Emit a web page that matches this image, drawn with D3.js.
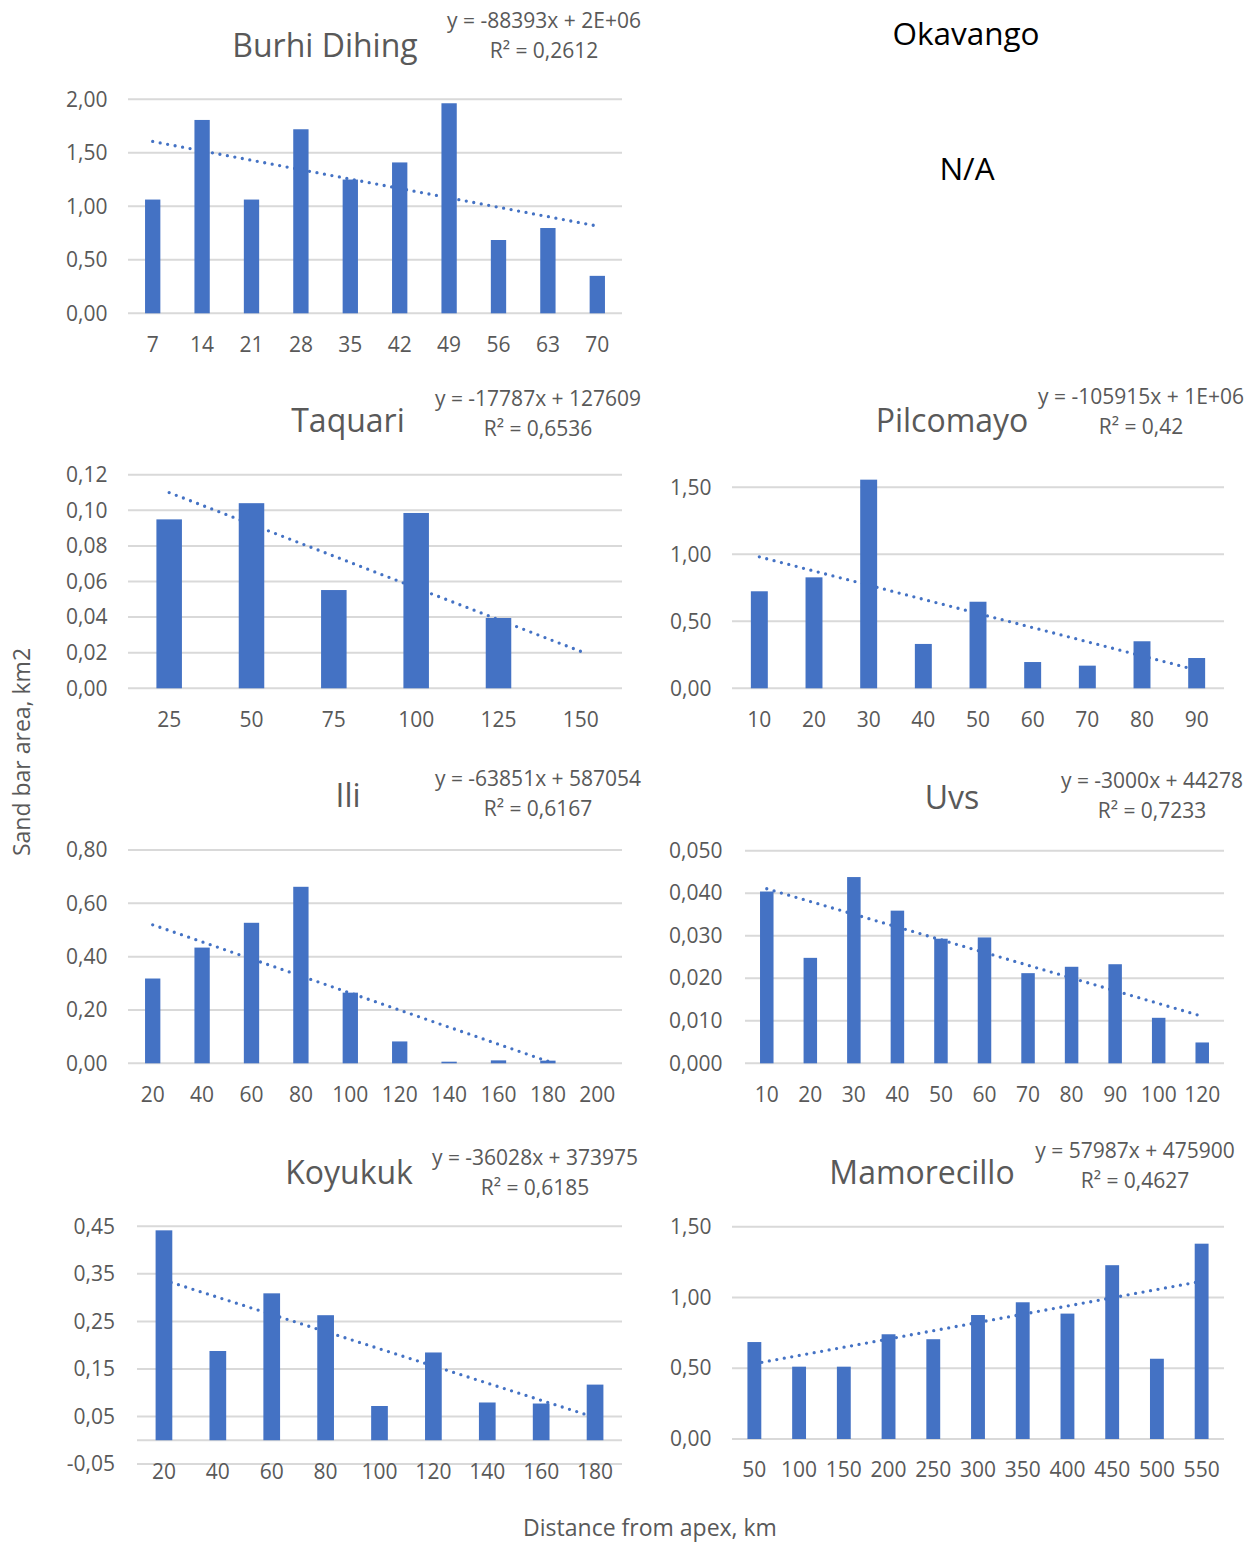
<!DOCTYPE html>
<html>
<head>
<meta charset="utf-8">
<script src="https://cdn.jsdelivr.net/npm/d3@7"></script>
<style>
  body { margin: 0; background: #fff; }
  text { font-family: "Open Sans", "DejaVu Sans", sans-serif; }
</style>
</head>
<body>
<svg id="chart" width="1260" height="1542"></svg>
<script>
// ---- Data: sand bar area (km2) by distance from apex (km) ----
const burhiDistance = ["7", "14", "21", "28", "35", "42", "49", "56", "63", "70"];
const burhiArea = [1.063, 1.807, 1.063, 1.72, 1.25, 1.41, 1.963, 0.685, 0.797, 0.35];
const burhiTicks = [0, 0.5, 1, 1.5, 2];
const burhiEquation = ["y = -88393x + 2E+06", "R² = 0,2612"];

const taquariDistance = ["25", "50", "75", "100", "125", "150"];
const taquariArea = [0.0949, 0.104, 0.0552, 0.0985, 0.0395, 0];
const taquariTicks = [0, 0.02, 0.04, 0.06, 0.08, 0.10, 0.12];
const taquariEquation = ["y = -17787x + 127609", "R² = 0,6536"];

const pilcomayoDistance = ["10", "20", "30", "40", "50", "60", "70", "80", "90"];
const pilcomayoArea = [0.724, 0.828, 1.557, 0.331, 0.646, 0.196, 0.169, 0.351, 0.226];
const pilcomayoTicks = [0, 0.5, 1, 1.5];
const pilcomayoEquation = ["y = -105915x + 1E+06", "R² = 0,42"];

const iliDistance = ["20", "40", "60", "80", "100", "120", "140", "160", "180", "200"];
const iliArea = [0.318, 0.434, 0.527, 0.662, 0.265, 0.082, 0.006, 0.011, 0.01, 0];
const iliTicks = [0, 0.2, 0.4, 0.6, 0.8];
const iliEquation = ["y = -63851x + 587054", "R² = 0,6167"];

const uvsDistance = ["10", "20", "30", "40", "50", "60", "70", "80", "90", "100", "120"];
const uvsArea = [0.0404, 0.0248, 0.0438, 0.0359, 0.0293, 0.0296, 0.0212, 0.0227, 0.0233, 0.0107, 0.0049];
const uvsTicks = [0, 0.01, 0.02, 0.03, 0.04, 0.05];
const uvsEquation = ["y = -3000x + 44278", "R² = 0,7233"];

const koyukukDistance = ["20", "40", "60", "80", "100", "120", "140", "160", "180"];
const koyukukArea = [0.4415, 0.1877, 0.309, 0.263, 0.072, 0.1846, 0.0794, 0.0772, 0.117];
const koyukukTicks = [-0.05, 0.05, 0.15, 0.25, 0.35, 0.45];
const koyukukEquation = ["y = -36028x + 373975", "R² = 0,6185"];

const mamorecilloDistance = ["50", "100", "150", "200", "250", "300", "350", "400", "450", "500", "550"];
const mamorecilloArea = [0.685, 0.511, 0.511, 0.74, 0.705, 0.876, 0.966, 0.886, 1.228, 0.567, 1.38];
const mamorecilloTicks = [0, 0.5, 1, 1.5];
const mamorecilloEquation = ["y = 57987x + 475900", "R² = 0,4627"];

// ---- Styling ----
const BAR = "#4472C4";
const GRID = "#D9D9D9";
const INK = "#595959";

const locale = d3.formatLocale({ decimal: ",", thousands: " ", grouping: [3], currency: ["", ""], minus: "-" });

// ---- Panel layout ----
const panels = [
  { title: "Burhi Dihing", cats: burhiDistance, values: burhiArea, ticks: burhiTicks, fmt: ".2f", eq: burhiEquation,
    x0: 128, x1: 622, yTop: 99.3, yBot: 313.3, labelY: 313.3, xPad: 23.5, yPad: 20.5,
    titleX: 325, titleY: 45, eqX: 544, eqY: 20 },
  { title: "Taquari", cats: taquariDistance, values: taquariArea, ticks: taquariTicks, fmt: ".2f", eq: taquariEquation,
    x0: 128, x1: 622, yTop: 474.7, yBot: 688.3, labelY: 688.3, xPad: 23.5, yPad: 20.5,
    titleX: 348, titleY: 420, eqX: 538, eqY: 398 },
  { title: "Pilcomayo", cats: pilcomayoDistance, values: pilcomayoArea, ticks: pilcomayoTicks, fmt: ".2f", eq: pilcomayoEquation,
    x0: 732, x1: 1224, yTop: 487.3, yBot: 688.3, labelY: 688.3, xPad: 23.5, yPad: 20.5,
    titleX: 952, titleY: 420, eqX: 1141, eqY: 396 },
  { title: "Ili", cats: iliDistance, values: iliArea, ticks: iliTicks, fmt: ".2f", eq: iliEquation,
    x0: 128, x1: 622, yTop: 850, yBot: 1063.3, labelY: 1063.3, xPad: 23.5, yPad: 20.5,
    titleX: 348, titleY: 795, eqX: 538, eqY: 778 },
  { title: "Uvs", cats: uvsDistance, values: uvsArea, ticks: uvsTicks, fmt: ".3f", eq: uvsEquation,
    x0: 745, x1: 1224, yTop: 850.7, yBot: 1063.3, labelY: 1063.3, xPad: 23.5, yPad: 22.5,
    titleX: 952, titleY: 797, eqX: 1152, eqY: 780 },
  { title: "Koyukuk", cats: koyukukDistance, values: koyukukArea, ticks: koyukukTicks, fmt: ".2f", eq: koyukukEquation,
    x0: 137, x1: 622, yTop: 1226.3, yBot: 1464, labelY: 1464, xPad: 0.5, yPad: 22,
    titleX: 349, titleY: 1172, eqX: 535, eqY: 1157 },
  { title: "Mamorecillo", cats: mamorecilloDistance, values: mamorecilloArea, ticks: mamorecilloTicks, fmt: ".2f", eq: mamorecilloEquation,
    x0: 732, x1: 1224, yTop: 1226.7, yBot: 1439, labelY: 1439, xPad: 23.5, yPad: 20.5,
    titleX: 922, titleY: 1172, eqX: 1135, eqY: 1150 }
];

// Least-squares line over category positions 1..n (as the spreadsheet trendline does)
function linearFit(values) {
  const n = values.length;
  const xs = d3.range(1, n + 1);
  const mx = d3.mean(xs), my = d3.mean(values);
  let sxy = 0, sxx = 0;
  xs.forEach((x, i) => { sxy += (x - mx) * (values[i] - my); sxx += (x - mx) * (x - mx); });
  const slope = sxy / sxx;
  return { slope, intercept: my - slope * mx };
}

const svg = d3.select("#chart");

panels.forEach(p => {
  const g = svg.append("g");
  const yMin = d3.min(p.ticks), yMax = d3.max(p.ticks);
  const y = d3.scaleLinear().domain([yMin, yMax]).range([p.yBot, p.yTop]);
  const x = d3.scaleBand().domain(p.cats).range([p.x0, p.x1]).paddingInner(0.69).paddingOuter(0.345);
  const step = x.step();
  const fmt = locale.format(p.fmt);

  // Horizontal gridlines
  g.append("g").selectAll("line").data(p.ticks).join("line")
    .attr("x1", p.x0).attr("x2", p.x1)
    .attr("y1", d => y(d)).attr("y2", d => y(d))
    .attr("stroke", GRID).attr("stroke-width", 2);

  // Category axis line at zero when the value axis goes negative
  if (yMin < 0) {
    g.append("line").attr("x1", p.x0).attr("x2", p.x1)
      .attr("y1", y(0)).attr("y2", y(0))
      .attr("stroke", GRID).attr("stroke-width", 2);
  }

  // Dotted linear trendline
  const fit = linearFit(p.values);
  const n = p.values.length;
  let tStart = 1, tEnd = n;
  const f = t => fit.intercept + fit.slope * t;
  if (f(tEnd) < yMin) tEnd = (yMin - fit.intercept) / fit.slope;
  if (f(tStart) < yMin) tStart = (yMin - fit.intercept) / fit.slope;
  const tx = t => p.x0 + (t - 0.5) * step;
  g.append("path")
    .datum([tStart, tEnd])
    .attr("d", d3.line().x(t => tx(t)).y(t => y(f(t))))
    .attr("fill", "none").attr("stroke", BAR)
    .attr("stroke-width", 3.3).attr("stroke-linecap", "round")
    .attr("stroke-dasharray", "0 7.6");

  // Bars
  g.append("g").selectAll("rect").data(p.values).join("rect")
    .attr("x", (d, i) => x(p.cats[i]))
    .attr("width", x.bandwidth())
    .attr("y", d => Math.min(y(d), y(0)))
    .attr("height", d => Math.abs(y(0) - y(d)))
    .attr("fill", BAR);

  // Value axis labels
  const yAxis = g.append("g").attr("transform", `translate(${p.x0},0)`)
    .call(d3.axisLeft(y).tickValues(p.ticks).tickFormat(fmt).tickSize(0).tickPadding(p.yPad));
  yAxis.select(".domain").remove();
  yAxis.selectAll("text").attr("fill", INK).style("font-size", "21px").style("font-family", "Open Sans");

  // Category labels
  const xAxis = g.append("g").attr("transform", `translate(0,${p.labelY})`)
    .call(d3.axisBottom(x).tickSize(0).tickPadding(p.xPad));
  xAxis.select(".domain").remove();
  xAxis.selectAll("text").attr("fill", INK).style("font-size", "21px").style("font-family", "Open Sans");

  // Title
  g.append("text").attr("x", p.titleX).attr("y", p.titleY + 11.5)
    .attr("text-anchor", "middle").attr("fill", INK)
    .style("font-size", "32px").text(p.title);

  // Trendline equation and R²
  g.append("g").selectAll("text").data(p.eq).join("text")
    .attr("x", p.eqX).attr("y", (d, i) => p.eqY + 7.5 + i * 30)
    .attr("text-anchor", "middle").attr("fill", INK)
    .style("font-size", "21px").text(d => d);
});

// Panel without data
svg.append("text").attr("x", 966).attr("y", 44.5).attr("text-anchor", "middle")
  .attr("fill", "#000").style("font-size", "31.5px").text("Okavango");
svg.append("text").attr("x", 967).attr("y", 179.5).attr("text-anchor", "middle")
  .attr("fill", "#000").style("font-size", "31.5px").text("N/A");

// Shared axis titles
svg.append("text").attr("transform", "translate(30,752) rotate(-90)")
  .attr("text-anchor", "middle").attr("fill", INK)
  .style("font-size", "23px").text("Sand bar area, km2");
svg.append("text").attr("x", 650).attr("y", 1536).attr("text-anchor", "middle")
  .attr("fill", INK).style("font-size", "23px").text("Distance from apex, km");
</script>
</body>
</html>
